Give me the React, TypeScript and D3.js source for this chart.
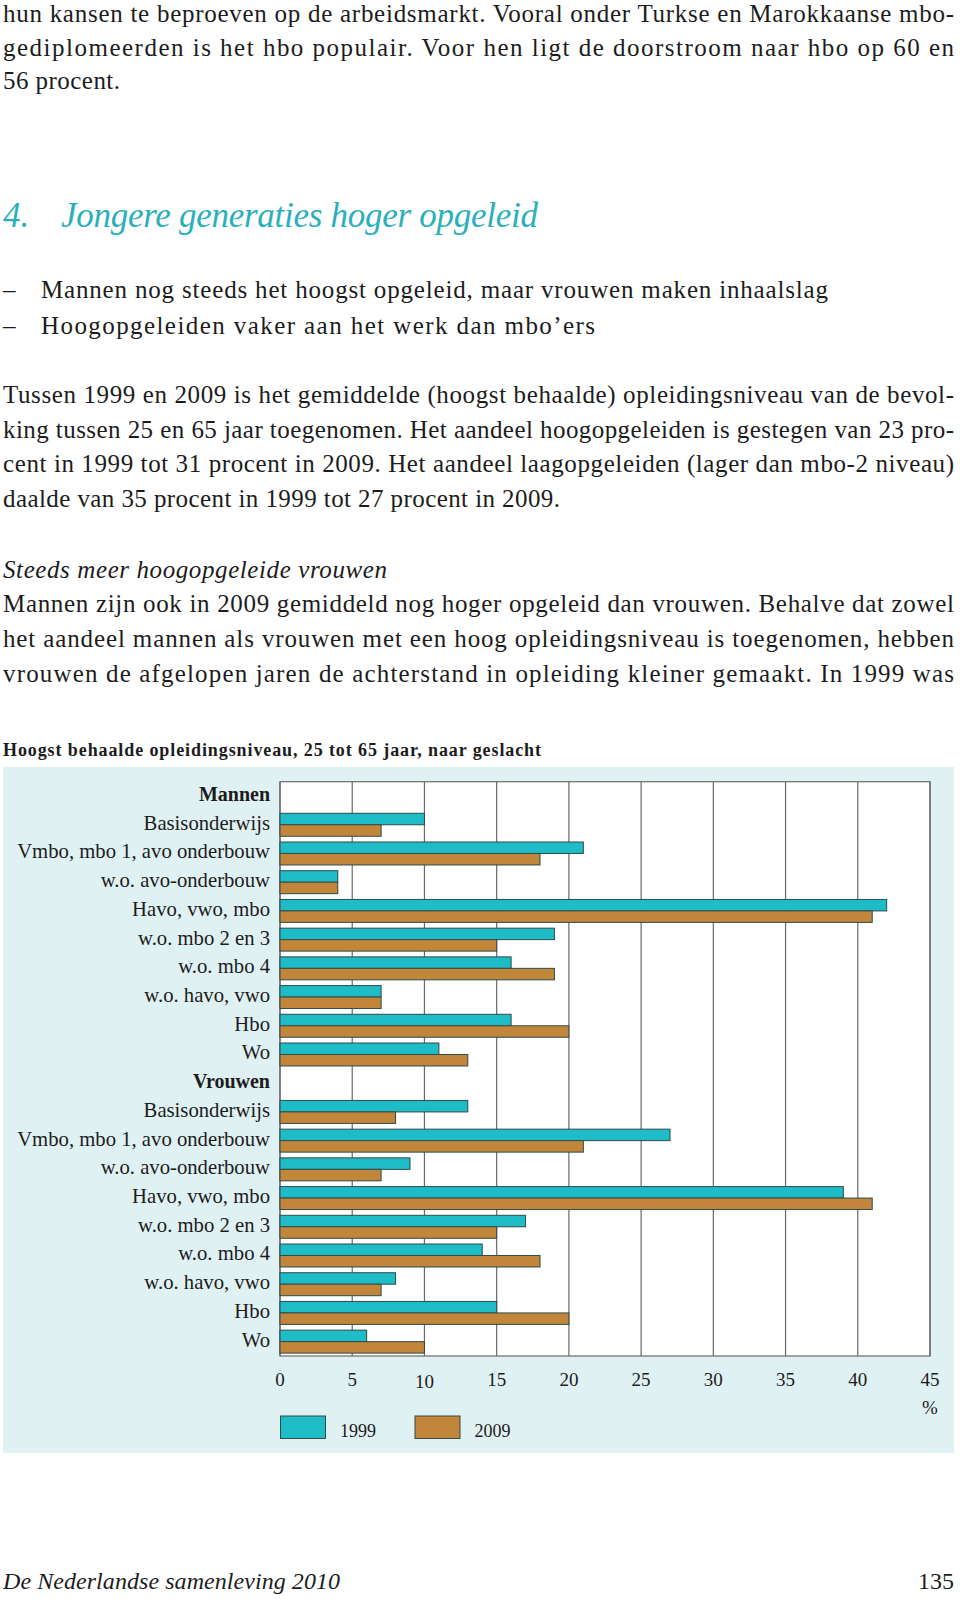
import React from "react";
import * as d3 from "d3";

// ---------- data ----------
const categories = [
  "Basisonderwijs",
  "Vmbo, mbo 1, avo onderbouw",
  "w.o. avo-onderbouw",
  "Havo, vwo, mbo",
  "w.o. mbo 2 en 3",
  "w.o. mbo 4",
  "w.o. havo, vwo",
  "Hbo",
  "Wo",
];
const groups = ["Mannen", "Vrouwen"];
const years = ["1999", "2009"];
const mannen1999 = [10, 21, 4, 42, 19, 16, 7, 16, 11];
const mannen2009 = [7, 18, 4, 41, 15, 19, 7, 20, 13];
const vrouwen1999 = [13, 27, 9, 39, 17, 14, 8, 15, 6];
const vrouwen2009 = [8, 21, 7, 41, 15, 18, 7, 20, 10];
const xTicks = [0, 5, 10, 15, 20, 25, 30, 35, 40, 45];

const chartTitle = "Hoogst behaalde opleidingsniveau, 25 tot 65 jaar, naar geslacht";
const introLines = [
  "hun kansen te beproeven op de arbeidsmarkt. Vooral onder Turkse en Marokkaanse mbo-",
  "gediplomeerden is het hbo populair. Voor hen ligt de doorstroom naar hbo op 60 en",
  "56 procent.",
];
const headingNum = "4.";
const headingText = "Jongere generaties hoger opgeleid";
const bullets = [
  "Mannen nog steeds het hoogst opgeleid, maar vrouwen maken inhaalslag",
  "Hoogopgeleiden vaker aan het werk dan mbo’ers",
];
const para1 = [
  "Tussen 1999 en 2009 is het gemiddelde (hoogst behaalde) opleidingsniveau van de bevol-",
  "king tussen 25 en 65 jaar toegenomen. Het aandeel hoogopgeleiden is gestegen van 23 pro-",
  "cent in 1999 tot 31 procent in 2009. Het aandeel laagopgeleiden (lager dan mbo-2 niveau)",
  "daalde van 35 procent in 1999 tot 27 procent in 2009.",
];
const subHeading = "Steeds meer hoogopgeleide vrouwen";
const para2 = [
  "Mannen zijn ook in 2009 gemiddeld nog hoger opgeleid dan vrouwen. Behalve dat zowel",
  "het aandeel mannen als vrouwen met een hoog opleidingsniveau is toegenomen, hebben",
  "vrouwen de afgelopen jaren de achterstand in opleiding kleiner gemaakt. In 1999 was",
];
const footerLeft = "De Nederlandse samenleving 2010";
const footerRight = "135";

// ---------- styling ----------
const FONT = "'Liberation Serif', 'DejaVu Serif', serif";
const TEAL = "#1dbcc6";
const BROWN = "#c1863a";
const BAR_STROKE = "#2f4b4b";
const BG = "#e0f1f3";
const TEXT = "#1c1c1c";
const HEAD = "#2ab0ba";

type Row = { key: string; label: string; header: boolean; v1999?: number; v2009?: number };

const rows: Row[] = [];
groups.forEach((g, gi) => {
  rows.push({ key: `h${gi}`, label: g, header: true });
  const a = gi === 0 ? mannen1999 : vrouwen1999;
  const b = gi === 0 ? mannen2009 : vrouwen2009;
  categories.forEach((c, ci) => {
    rows.push({ key: `${gi}-${ci}`, label: c, header: false, v1999: a[ci], v2009: b[ci] });
  });
});

const plot = { left: 280, right: 930, top: 781.7, bottom: 1356 };

export default function App() {
  const x = d3.scaleLinear().domain([0, 45]).range([plot.left, plot.right]);
  const y = d3
    .scaleBand<string>()
    .domain(rows.map((r) => r.key))
    .range([plot.top, plot.bottom])
    .paddingInner(0.2)
    .paddingOuter(0.1);
  const yy = d3.scaleBand<string>().domain(years).range([0, y.bandwidth()]);

  const bodyLine = (
    t: string,
    xPos: number,
    yPos: number,
    width: number | null,
    opts: { italic?: boolean; size?: number; color?: string; weight?: string } = {}
  ) => (
    <text
      key={t + yPos}
      x={xPos}
      y={yPos}
      fontFamily={FONT}
      fontSize={opts.size ?? 25}
      fontStyle={opts.italic ? "italic" : "normal"}
      fontWeight={opts.weight ?? "normal"}
      fill={opts.color ?? TEXT}
      textLength={width ?? undefined}
      lengthAdjust={width ? "spacing" : undefined}
    >
      {t}
    </text>
  );

  return (
    <svg
      width={960}
      height={1599}
      style={{ position: "absolute", left: 0, top: 0, background: "#fff" }}
    >
      <rect x={0} y={0} width={960} height={1599} fill="#fff" />
      {/* intro text */}
      {bodyLine(introLines[0], 3, 22, 951)}
      {bodyLine(introLines[1], 3, 55.5, 951)}
      {bodyLine(introLines[2], 3, 89, 117)}

      {/* heading */}
      {bodyLine(headingNum, 3, 227, null, { italic: true, size: 35, color: HEAD })}
      {bodyLine(headingText, 61, 227, 477, { italic: true, size: 35, color: HEAD })}

      {/* bullets */}
      {bullets.map((b, i) => (
        <g key={b}>
          {bodyLine("–", 3, 298 + i * 35.5, null)}
          {bodyLine(b, 41, 298 + i * 35.5, i === 0 ? 787 : 554)}
        </g>
      ))}

      {/* paragraph 1 */}
      {para1.map((l, i) => bodyLine(l, 3, 403 + i * 34.7, i < 3 ? 951 : 557))}

      {/* subheading */}
      {bodyLine(subHeading, 3, 577.5, 384, { italic: true })}
      {para2.map((l, i) => bodyLine(l, 3, 612 + i * 35.2, 951))}

      {/* chart title */}
      {bodyLine(chartTitle, 3, 756, 538, { size: 18, weight: "bold" })}

      {/* chart background */}
      <rect x={3} y={767} width={951} height={686} fill={BG} />
      <rect
        x={plot.left}
        y={plot.top}
        width={plot.right - plot.left}
        height={plot.bottom - plot.top}
        fill="#fff"
      />
      {/* gridlines */}
      {xTicks.map((t) => (
        <line
          key={`g${t}`}
          x1={x(t)}
          x2={x(t)}
          y1={plot.top}
          y2={plot.bottom}
          stroke="#6a6a6a"
          strokeWidth={1.2}
        />
      ))}
      <rect
        x={plot.left}
        y={plot.top}
        width={plot.right - plot.left}
        height={plot.bottom - plot.top}
        fill="none"
        stroke="#6a6a6a"
        strokeWidth={1.2}
      />

      {/* bars */}
      {rows
        .filter((r) => !r.header)
        .map((r) => {
          const y0 = y(r.key)!;
          return (
            <g key={`b${r.key}`}>
              <rect
                x={x(0)}
                y={y0 + yy("1999")!}
                width={x(r.v1999!) - x(0)}
                height={yy.bandwidth()}
                fill={TEAL}
                stroke={BAR_STROKE}
                strokeWidth={1}
              />
              <rect
                x={x(0)}
                y={y0 + yy("2009")!}
                width={x(r.v2009!) - x(0)}
                height={yy.bandwidth()}
                fill={BROWN}
                stroke={BAR_STROKE}
                strokeWidth={1}
              />
            </g>
          );
        })}

      {/* row labels */}
      {rows.map((r) => {
        const cy = y(r.key)! + y.bandwidth() / 2;
        return (
          <text
            key={`l${r.key}`}
            x={270}
            y={cy + 5}
            textAnchor="end"
            fontFamily={FONT}
            fontSize={r.header ? 20 : 20.7}
            fontWeight={r.header ? "bold" : "normal"}
            fill={TEXT}
          >
            {r.label}
          </text>
        );
      })}

      {/* x tick labels */}
      {xTicks.map((t) => (
        <text
          key={`t${t}`}
          x={x(t)}
          y={1386 + (t === 10 ? 2 : 0)}
          textAnchor="middle"
          fontFamily={FONT}
          fontSize={19}
          fill={TEXT}
        >
          {t}
        </text>
      ))}
      <text x={x(45)} y={1414} textAnchor="middle" fontFamily={FONT} fontSize={19} fill={TEXT}>
        %
      </text>

      {/* legend */}
      {years.map((yr, i) => {
        const lx = 280.5 + i * 134.5;
        return (
          <g key={`leg${yr}`}>
            <rect
              x={lx}
              y={1416}
              width={45}
              height={22.5}
              fill={i === 0 ? TEAL : BROWN}
              stroke={BAR_STROKE}
              strokeWidth={1}
            />
            <text x={lx + 59.5} y={1437} fontFamily={FONT} fontSize={18} fill={TEXT}>
              {yr}
            </text>
          </g>
        );
      })}

      {/* footer */}
      {bodyLine(footerLeft, 3, 1589, 337, { italic: true, size: 24 })}
      <text x={954} y={1589} textAnchor="end" fontFamily={FONT} fontSize={24} fill={TEXT}>
        {footerRight}
      </text>
    </svg>
  );
}
